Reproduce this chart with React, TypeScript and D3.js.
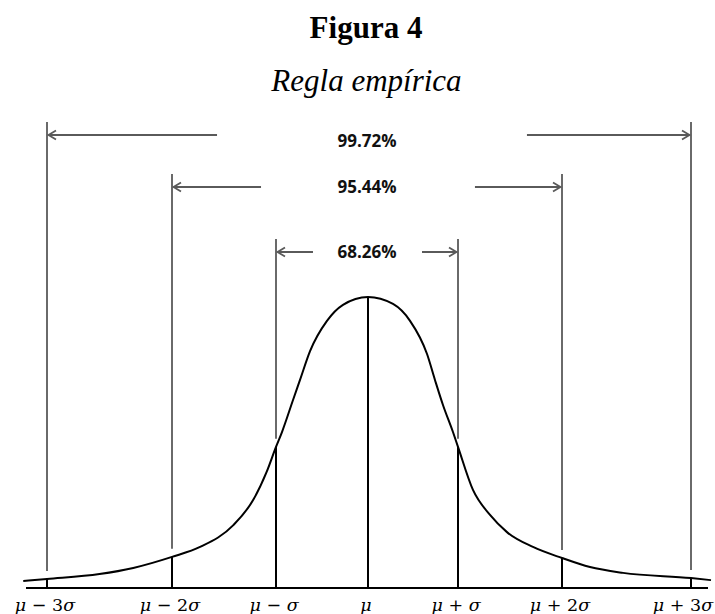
import React from 'react';
import * as d3 from 'd3';

// ---- data ----
const sigmaTicks = [-3, -2, -1, 0, 1, 2, 3];
const tickLabels = ['μ − 3σ', 'μ − 2σ', 'μ − σ', 'μ', 'μ + σ', 'μ + 2σ', 'μ + 3σ'];
const curveSigma = [-3.19, -3, -2.58, -2.31, -2, -1.73, -1.41, -1.22, -1.09, -1, -0.935, -0.815, -0.739, -0.63, -0.446, -0.272, 0, 0.278, 0.467, 0.656, 0.744, 0.833, 0.944, 1, 1.144, 1.308, 1.471, 1.721, 2, 2.217, 2.473, 3, 3.155];
const curveHeight = [2.4, 3.1, 4.8, 6.9, 10.7, 14.1, 21.6, 30.2, 39.9, 48.5, 53.6, 64.6, 71.5, 81.4, 91.8, 97.3, 100, 97.6, 91.8, 80.4, 71.5, 62.9, 53.6, 48.5, 33.7, 25.1, 19.2, 14.1, 10.3, 7.2, 5.2, 3.4, 2.7];
const bracketLabels = ['99.72%', '95.44%', '68.26%'];
const bracketSigma = [3, 2, 1];
const arrowTailLeft = [-1.567, -1.144, -0.598];
const arrowTailRight = [1.663, 1.163, 0.6];

// ---- layout ----
const W = 715;
const H = 614;
const GRAY = '#5a5a5a';
const x = d3.scaleLinear().domain(sigmaTicks).range([47, 172, 276, 368, 458, 562, 691]);
const y = d3.scaleLinear().domain([0, 100]).range([588, 297]);
const rowY = d3.scaleOrdinal<string, number>().domain(bracketLabels).range([135, 187, 252]);
const labelY = d3.scaleOrdinal<string, number>().domain(bracketLabels).range([147, 193, 258]);

const heightAt = (s: number) => curveHeight[curveSigma.indexOf(s)];

const line = d3
  .line<number>()
  .x((_, i) => x(curveSigma[i]))
  .y((d) => y(d))
  .curve(d3.curveMonotoneX);

function MathLabel({ text }: { text: string }) {
  const parts = Array.from(text);
  return (
    <>
      {parts.map((c, i) => (
        <tspan key={i} fontStyle={c === 'μ' || c === 'σ' ? 'italic' : 'normal'}>
          {c}
        </tspan>
      ))}
    </>
  );
}

export default function App() {
  const axisY = y(0);
  return (
    <svg
      width={W}
      height={H}
      viewBox={`0 0 ${W} ${H}`}
      style={{ position: 'absolute', left: 0, top: 0, display: 'block', background: '#fff' }}
    >
      <rect width={W} height={H} fill="#fff" />
      {/* titles */}
      <text x={366} y={38} textAnchor="middle" fontFamily="'Liberation Serif', 'Times New Roman', serif" fontWeight="bold" fontSize={31} fill="#000">
        Figura 4
      </text>
      <text x={366.5} y={91} textAnchor="middle" fontFamily="'Liberation Serif', 'Times New Roman', serif" fontStyle="italic" fontSize={31} fill="#000">
        Regla empírica
      </text>

      {/* brackets */}
      {bracketLabels.map((lab, i) => {
        const k = bracketSigma[i];
        const ry = rowY(lab);
        const lx = x(-k);
        const rx = x(k);
        const ltail = x(arrowTailLeft[i]);
        const rtail = x(arrowTailRight[i]);
        return (
          <g key={lab}>
            <line x1={lx} x2={lx} y1={ry - 13} y2={y(heightAt(-k)) - 8} stroke={GRAY} strokeWidth={1.8} />
            <line x1={rx} x2={rx} y1={ry - 13} y2={y(heightAt(k)) - 8} stroke={GRAY} strokeWidth={1.8} />
            <line x1={ltail} x2={lx + 1.5} y1={ry} y2={ry} stroke={GRAY} strokeWidth={1.8} />
            <path d={`M${lx + 9},${ry - 4.5} L${lx + 1.5},${ry} L${lx + 9},${ry + 4.5}`} fill="none" stroke={GRAY} strokeWidth={1.8} />
            <line x1={rtail} x2={rx - 1.5} y1={ry} y2={ry} stroke={GRAY} strokeWidth={1.8} />
            <path d={`M${rx - 9},${ry - 4.5} L${rx - 1.5},${ry} L${rx - 9},${ry + 4.5}`} fill="none" stroke={GRAY} strokeWidth={1.8} />
            <text x={x(0) - 1} y={labelY(lab)} textAnchor="middle" fontFamily="'Open Sans', sans-serif" fontWeight="bold" fontSize={17} fill="#111">
              {lab}
            </text>
          </g>
        );
      })}

      {/* black verticals under curve */}
      {sigmaTicks.map((s) => (
        <line key={s} x1={x(s)} x2={x(s)} y1={y(heightAt(s))} y2={axisY} stroke="#000" strokeWidth={2} />
      ))}

      {/* curve */}
      <path d={line(curveHeight) || ''} fill="none" stroke="#000" strokeWidth={2} />

      {/* axis */}
      <line x1={26} x2={708} y1={axisY} y2={axisY} stroke="#000" strokeWidth={2} />

      {/* tick labels */}
      {sigmaTicks.map((s, i) => {
        const cx = Math.min(x(s) - 2, 683);
        return (
          <text key={s} x={cx} y={611} textAnchor="middle" fontFamily="'DejaVu Serif', serif" fontSize={17.5} fill="#000" style={{ whiteSpace: 'pre' }}>
            <MathLabel text={tickLabels[i]} />
          </text>
        );
      })}
    </svg>
  );
}
